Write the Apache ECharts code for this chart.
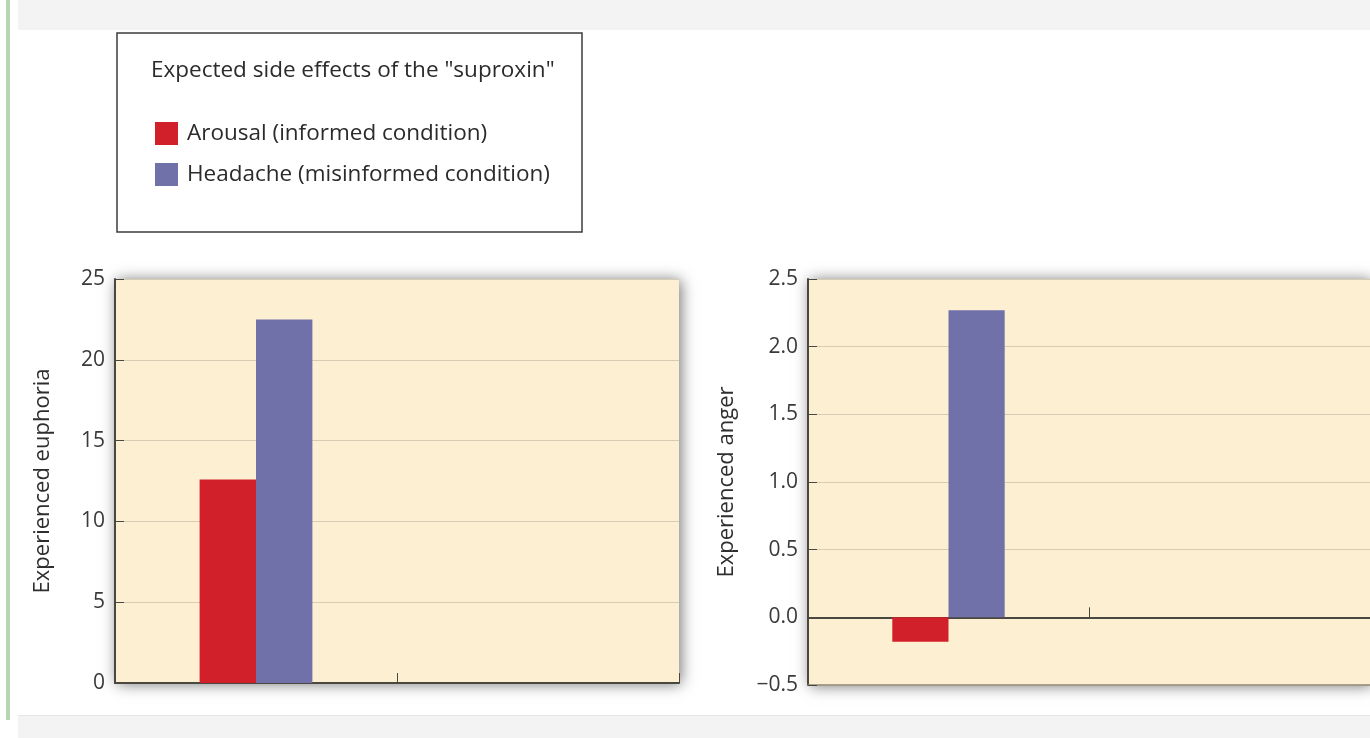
<!DOCTYPE html>
<html>
<head>
<meta charset="utf-8">
<script src="https://cdn.jsdelivr.net/npm/echarts@6/dist/echarts.min.js"></script>
<style>
html,body{margin:0;padding:0;background:#fff;}
#c{width:1370px;height:738px;}
</style>
</head>
<body>
<div id="c"></div>
<script>
// ---- data ----
var categories = ['Condition', 'Empty'];
var seriesNames = ['Arousal (informed condition)', 'Headache (misinformed condition)'];
var euphoriaArousal = [12.6];
var euphoriaHeadache = [22.5];
var angerArousal = [-0.18];
var angerHeadache = [2.27];
var legendTitle = 'Expected side effects of the "suproxin"';
var euphoriaName = 'Experienced euphoria';
var angerName = 'Experienced anger';

var FONT = '"Open Sans", sans-serif';
var RED = '#d2202a', BLUE = '#7171a9';
var CREAM = '#fdf0d2';
var AXIS = '#4a4640';
var GRIDLINE = '#d6ccb4';

var chart = echarts.init(document.getElementById('c'), null, {renderer: 'canvas'});

function yAxis(gridIndex, name, min, max, interval, nameGap, fmt) {
  return {
    type: 'value', gridIndex: gridIndex, min: min, max: max, interval: interval,
    name: name, nameLocation: 'middle', nameGap: nameGap, nameRotate: 90,
    nameTextStyle: {fontFamily: FONT, fontSize: 22, color: '#2e2e2e'},
    axisLine: {show: true, lineStyle: {color: AXIS, width: 2}},
    axisTick: {show: true, inside: true, length: 9, lineStyle: {color: AXIS, width: 1}},
    axisLabel: {fontFamily: FONT, fontSize: 21, color: '#3a3a3a', margin: 10, formatter: fmt},
    splitLine: {show: true, lineStyle: {color: GRIDLINE, width: 1}}
  };
}
function xAxis(gridIndex) {
  return {
    type: 'category', gridIndex: gridIndex, data: categories,
    axisLine: {show: true, onZero: true, lineStyle: {color: AXIS, width: 2}},
    axisTick: {show: true, inside: true, length: 10, lineStyle: {color: AXIS, width: 1}},
    axisLabel: {show: false},
    splitLine: {show: false}
  };
}

var option = {
  animation: false,
  backgroundColor: '#ffffff',
  graphic: [
    {type: 'rect', z: -10, shape: {x: 18, y: 0, width: 1352, height: 30}, style: {fill: '#f3f3f3'}},
    {type: 'rect', z: -10, shape: {x: 18, y: 715, width: 1352, height: 23}, style: {fill: '#f3f3f3'}},
    {type: 'rect', z: -9, shape: {x: 18, y: 715, width: 1352, height: 1}, style: {fill: '#e6e6e6'}},
    {type: 'rect', z: -10, shape: {x: 6, y: 0, width: 4, height: 720}, style: {fill: '#b9d3b5'}},
    {type: 'rect', z: -5, shape: {x: 117, y: 33, width: 465, height: 199},
      style: {fill: '#ffffff', stroke: '#3d3d3d', lineWidth: 1.5}}
  ],
  title: {
    text: legendTitle, left: 146, top: 54,
    textStyle: {fontFamily: FONT, fontSize: 22.5, fontWeight: 'normal', color: '#2b2b2b'}
  },
  legend: {
    orient: 'vertical', left: 150, top: 117, itemWidth: 23, itemHeight: 23, itemGap: 18,
    icon: 'rect',
    textStyle: {fontFamily: FONT, fontSize: 22.5, color: '#2b2b2b', padding: [0, 0, 0, 4]},
    data: seriesNames
  },
  grid: [
    {left: 115, right: 691, top: 279, bottom: 55, show: true, backgroundColor: CREAM,
      borderWidth: 0, shadowBlur: 14, shadowColor: 'rgba(0,0,0,0.55)', shadowOffsetX: 2, shadowOffsetY: 1},
    {left: 808, right: -2, top: 279, bottom: 53, show: true, backgroundColor: CREAM,
      borderWidth: 0, shadowBlur: 14, shadowColor: 'rgba(0,0,0,0.55)', shadowOffsetX: 2, shadowOffsetY: 1}
  ],
  xAxis: [
    xAxis(0),
    xAxis(1),
    {type: 'category', gridIndex: 1, data: categories, position: 'bottom',
      axisLine: {show: true, onZero: false, lineStyle: {color: '#8f8676', width: 1.5}},
      axisTick: {show: false}, axisLabel: {show: false}, splitLine: {show: false}}
  ],
  yAxis: [
    yAxis(0, euphoriaName, 0, 25, 5, 61, function (v) { return String(v); }),
    yAxis(1, angerName, -0.5, 2.5, 0.5, 70, function (v) {
      var s = Math.abs(v).toFixed(1); return v < 0 ? '\u2212' + s : s; })
  ],
  series: [
    {name: seriesNames[0], type: 'bar', xAxisIndex: 0, yAxisIndex: 0, data: euphoriaArousal,
      barWidth: '20%', barGap: '0%', itemStyle: {color: RED}},
    {name: seriesNames[1], type: 'bar', xAxisIndex: 0, yAxisIndex: 0, data: euphoriaHeadache,
      barWidth: '20%', barGap: '0%', itemStyle: {color: BLUE}},
    {name: seriesNames[0], type: 'bar', xAxisIndex: 1, yAxisIndex: 1, data: angerArousal,
      barWidth: '20%', barGap: '0%', itemStyle: {color: RED}},
    {name: seriesNames[1], type: 'bar', xAxisIndex: 1, yAxisIndex: 1, data: angerHeadache,
      barWidth: '20%', barGap: '0%', itemStyle: {color: BLUE}}
  ]
};
chart.setOption(option);
</script>
</body>
</html>
